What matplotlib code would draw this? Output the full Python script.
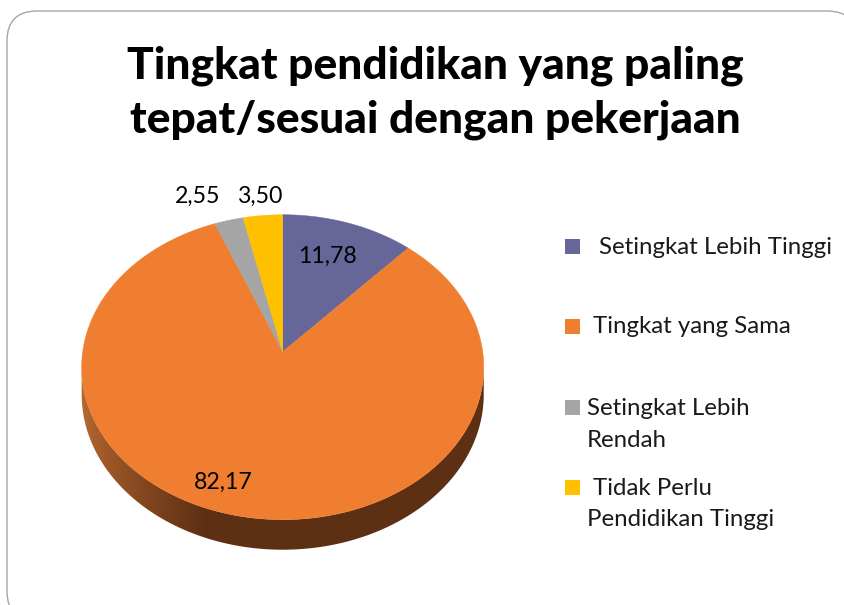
import numpy as np
import matplotlib
matplotlib.use("Agg")
import matplotlib.pyplot as plt
from matplotlib.patches import Polygon, FancyBboxPatch, Rectangle

# ---- data ----
categories = ["Setingkat Lebih Tinggi", "Tingkat yang Sama",
              "Setingkat Lebih Rendah", "Tidak Perlu Pendidikan Tinggi"]
legend_labels = ["Setingkat Lebih Tinggi", "Tingkat yang Sama",
                 "Setingkat Lebih\nRendah", "Tidak Perlu\nPendidikan Tinggi"]
values = [11.78, 82.17, 2.55, 3.50]
value_labels = ["11,78", "82,17", "2,55", "3,50"]
title_lines = ["Tingkat pendidikan yang paling", "tepat/sesuai dengan pekerjaan"]

# ---- styles / layout ----
colors = ["#666699", "#EF7E31", "#A5A5A5", "#FFC000"]
FONT = "Lato"
W, H = 845, 605
fig = plt.figure(figsize=(W / 100, H / 100), dpi=100)
ax = fig.add_axes([0, 0, 1, 1])
ax.set_xlim(0, W)
ax.set_ylim(H, 0)
ax.axis("off")
renderer = fig.canvas.get_renderer()


def fit_text(t, target_w):
    bb = t.get_window_extent(renderer=renderer)
    t.set_fontsize(t.get_fontsize() * target_w / bb.width)


# frame
frame = FancyBboxPatch((7, 11), 850, 610, boxstyle="round,pad=0,rounding_size=30",
                       fc="white", ec="#A6A6A6", lw=1.0, zorder=0)
ax.add_patch(frame)

# pie geometry (perspective-projected disc)
cx, cy = 282.7, 351.7
A, B, k = 200.0, 150.9, 0.1016
thick = 27.0


def proj(theta_deg, depth=0.0):
    th = np.radians(theta_deg)
    u, v = np.sin(th), np.cos(th)
    w = 1 + k * v
    return cx + A * u / w, cy - B * v / w + depth * thick / w


total = sum(values)
starts = np.concatenate([[0], np.cumsum(values)[:-1]]) / total * 360
extents = np.array(values) / total * 360

# side wall (front portion) as one polygon filled with a horizontal gradient
sil = np.degrees(np.arccos(-k))
side_angles = np.linspace(sil - 1, 360 - sil + 1, 400)
top_edge = [proj(a) for a in side_angles]
bot_edge = [proj(a, 1) for a in side_angles[::-1]]
side_poly = Polygon(top_edge + bot_edge, closed=True, fc="none", ec="none", zorder=1)
ax.add_patch(side_poly)

dark = np.array([0.365, 0.185, 0.075])
light = np.array([0.72, 0.41, 0.19])
xs = np.linspace(cx - A * 1.01, cx + A * 1.01, 400)
uu = (xs - cx) / A
f = np.clip((uu + 1.0) / 0.62, 0, 1) ** 0.75
grad = light[None, :] * (1 - f[:, None]) + dark[None, :] * f[:, None]
img = np.repeat(grad[None, :, :], 2, axis=0)
im = ax.imshow(img, extent=(xs[0], xs[-1], cy + B * 1.4, cy - 20), aspect="auto",
               interpolation="bilinear", zorder=1)
im.set_clip_path(side_poly)

# top face slices
for i, (s, e) in enumerate(zip(starts, extents)):
    angs = np.linspace(s, s + e, max(int(e * 2), 4))
    pts = [(cx, cy)] + [proj(a) for a in angs]
    ax.add_patch(Polygon(pts, closed=True, fc=colors[i], ec=colors[i], lw=0.3, zorder=2))

# data labels (left x, baseline y)
label_pos = [(298, 263), (194, 489), (175, 203), (237, 203)]
lab_texts = []
for (x, y), txt in zip(label_pos, value_labels):
    t = ax.text(x, y, txt, ha="left", va="baseline", fontsize=17, family=FONT,
                color="black", zorder=5)
    lab_texts.append(t)
fit_text(lab_texts[0], 59)
for t in lab_texts[1:]:
    t.set_fontsize(lab_texts[0].get_fontsize())

# title
tt = []
for y, line in zip([79, 132], title_lines):
    t = ax.text(435, y, line, ha="center", va="baseline", fontsize=30,
                family=FONT, weight=900, color="black", zorder=5)
    tt.append(t)
fit_text(tt[0], 615)
tt[1].set_fontsize(tt[0].get_fontsize())

# legend
marker_x = 565
marker_tops = [239, 319, 400, 480]
text_lines = [[(599, 254, "Setingkat Lebih Tinggi")],
              [(593, 333, "Tingkat yang Sama")],
              [(587, 415, "Setingkat Lebih"), (587, 447, "Rendah")],
              [(593, 495, "Tidak Perlu"), (587, 526, "Pendidikan Tinggi")]]
for i, mt in enumerate(marker_tops):
    ax.add_patch(Rectangle((marker_x, mt), 15, 15, fc=colors[i], ec="none", zorder=5))
leg_texts = []
for lines in text_lines:
    for (x, y, s) in lines:
        leg_texts.append(ax.text(x, y, s, ha="left", va="baseline", fontsize=17,
                                 family=FONT, color="#1a1a1a", zorder=5))
fit_text(leg_texts[0], 233)
for t in leg_texts[1:]:
    t.set_fontsize(leg_texts[0].get_fontsize())

fig.savefig("out.png", dpi=100)
